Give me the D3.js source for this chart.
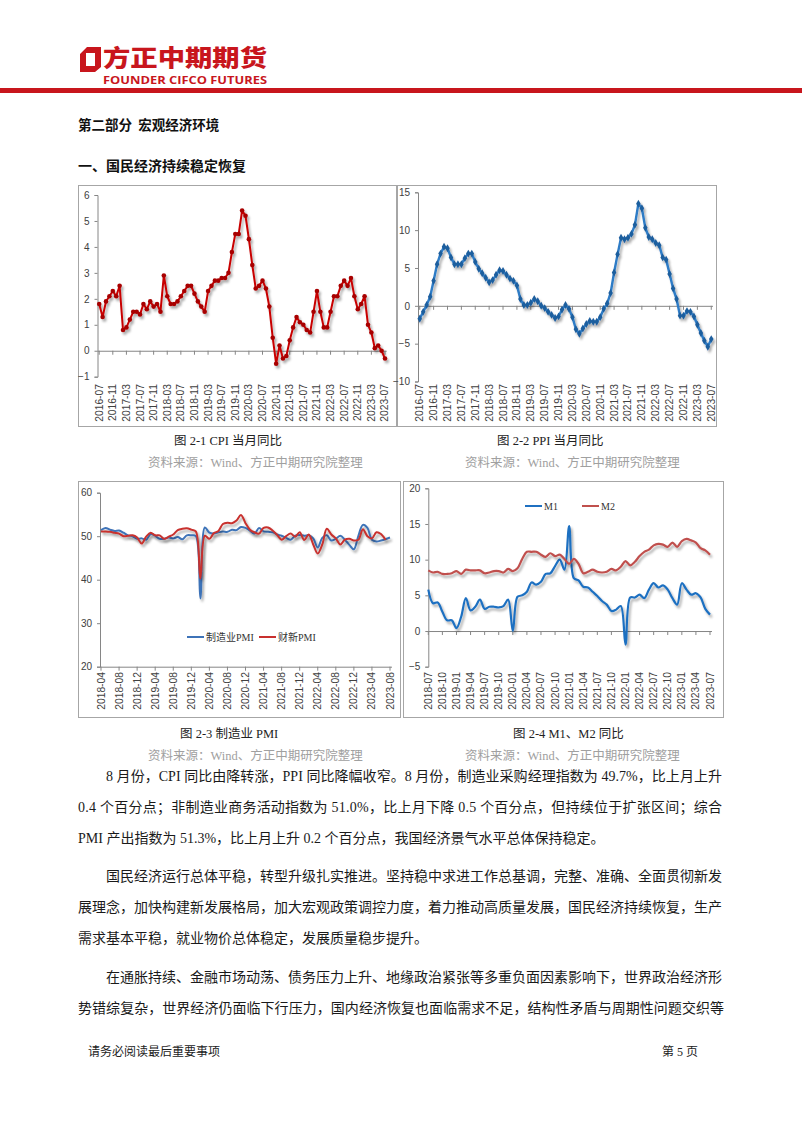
<!DOCTYPE html>
<html><head><meta charset="utf-8">
<script src="https://cdn.jsdelivr.net/npm/d3@7"></script>
<style>
body{margin:0;background:#fff}
svg{display:block}
text{font-family:"Liberation Serif","Noto Sans CJK SC",serif;white-space:pre}
</style></head><body>
<svg id="page" width="802" height="1133"></svg>
<script>
// ---------------- DATA ----------------
const cpiValues=[1.8,1.3,1.9,2.1,2.3,2.1,
2.5,0.8,0.9,1.2,1.5,1.5,1.4,1.8,1.6,1.9,1.7,1.8,
1.5,2.9,2.1,1.8,1.8,1.9,2.1,2.3,2.5,2.5,2.2,1.9,
1.7,1.5,2.3,2.5,2.7,2.7,2.8,2.8,3.0,3.8,4.5,4.5,
5.4,5.2,4.3,3.3,2.4,2.5,2.7,2.4,1.7,0.5,-0.5,0.2,
-0.3,-0.2,0.4,0.9,1.3,1.1,1.0,0.8,0.7,1.5,2.3,1.5,
0.9,0.9,1.5,2.1,2.1,2.5,2.7,2.5,2.8,2.1,1.6,1.8,
2.1,1.0,0.7,0.1,0.2,0.0,-0.3];
const ppiValues=[-1.7,-0.8,0.1,1.2,3.3,5.5,
6.9,7.8,7.6,6.4,5.5,5.5,5.5,6.3,6.9,6.9,5.8,4.9,
4.3,3.7,3.1,3.4,4.1,4.7,4.6,4.1,3.6,3.3,2.7,0.9,
0.1,0.1,0.4,0.9,0.6,0.0,-0.3,-0.8,-1.2,-1.6,-1.4,-0.5,
0.1,-0.4,-1.5,-3.1,-3.7,-3.0,-2.4,-2.0,-2.1,-2.1,-1.5,-0.4,
0.3,1.7,4.4,6.8,9.0,8.8,9.0,9.5,10.7,13.5,12.9,10.3,
9.1,8.8,8.3,8.0,6.4,6.1,4.2,2.3,0.9,-1.3,-1.3,-0.7,
-0.8,-1.4,-2.5,-3.6,-4.6,-5.4,-4.4];
const cpiTicks=["2016-07","2016-11","2017-03","2017-07","2017-11","2018-03","2018-07","2018-11","2019-03","2019-07","2019-11","2020-03","2020-07","2020-11","2021-03","2021-07","2021-11","2022-03","2022-07","2022-11","2023-03","2023-07"];
const ppiTicks=cpiTicks.slice();

const pmiOfficial=[51.4,51.9,51.5,51.2,51.3,50.8,50.2,50.0,49.4,
49.5,49.2,50.5,50.1,49.4,49.4,49.7,49.5,49.8,49.3,50.2,50.2,
50.0,35.7,52.0,50.8,50.6,50.9,51.1,51.0,51.5,51.4,52.1,51.9,
51.3,50.6,51.9,51.1,51.0,50.9,50.4,50.1,49.6,49.2,50.1,50.3,
50.1,50.2,49.5,47.4,49.6,50.2,49.0,49.4,50.1,49.2,48.0,47.0,
50.1,52.6,51.9,49.2,48.8,49.0,49.3,49.7];
const pmiCaixin=[51.1,51.1,51.0,50.8,50.6,50.0,50.1,50.2,49.7,
48.3,49.9,50.8,50.2,50.2,49.4,49.9,50.4,51.4,51.7,51.8,51.5,
51.1,40.3,50.1,49.4,50.7,51.2,52.8,53.1,53.0,53.6,54.9,53.0,
51.5,50.9,50.6,51.9,52.0,51.3,50.3,49.2,50.0,50.6,49.9,50.9,
49.1,50.4,48.1,46.0,48.1,51.7,50.4,49.5,48.1,49.2,49.4,49.0,
49.2,51.6,50.0,49.5,50.9,50.5,49.2,null];
const pmiTicks=["2018-04","2018-08","2018-12","2019-04","2019-08","2019-12","2020-04","2020-08","2020-12","2021-04","2021-08","2021-12","2022-04","2022-08","2022-12","2023-04","2023-08"];

const m1Values=[5.8,3.9,4.0,2.7,1.5,1.5,
0.4,2.0,4.6,2.9,3.4,4.4,3.1,3.4,3.4,3.3,3.5,4.4,
0.0,4.8,5.0,5.5,6.8,6.5,6.9,8.0,8.1,9.1,10.0,8.6,
14.7,7.4,7.1,6.2,6.1,5.5,4.9,4.2,3.7,2.8,3.0,3.5,
-1.9,4.7,4.7,5.1,4.6,5.8,6.7,6.1,6.4,5.8,4.6,3.7,
6.7,5.8,5.1,5.3,4.7,3.1,2.3];
const m2Values=[8.5,8.2,8.3,8.0,8.0,8.1,
8.4,8.0,8.6,8.5,8.5,8.5,8.1,8.2,8.4,8.4,8.2,8.7,
8.4,8.8,10.1,11.1,11.1,11.1,10.7,10.4,10.9,10.5,10.7,10.1,
9.4,10.1,9.4,8.1,8.3,8.6,8.3,8.2,8.3,8.7,8.5,9.0,
9.8,9.2,9.7,10.5,11.1,11.4,12.0,12.2,12.1,11.8,12.4,11.8,
12.6,12.9,12.7,12.4,11.6,11.3,10.7];
const mTicks=["2018-07","2018-10","2019-01","2019-04","2019-07","2019-10","2020-01","2020-04","2020-07","2020-10","2021-01","2021-04","2021-07","2021-10","2022-01","2022-04","2022-07","2022-10","2023-01","2023-04","2023-07"];

const pmiLegend=["制造业PMI","财新PMI"];
const mLegend=["M1","M2"];

function months(start,n){
  const [y,m]=start.split("-").map(Number);
  return d3.range(n).map(i=>{const t=m-1+i;return (y+Math.floor(t/12))+"-"+String(t%12+1).padStart(2,"0");});
}
const cpiMonths=months("2016-07",cpiValues.length);
const pmiMonths=months("2018-04",pmiOfficial.length);
const mMonths=months("2018-07",m1Values.length);

// ---------------- PAGE ----------------
const svg=d3.select("#page");
svg.append("rect").attr("width",802).attr("height",1133).attr("fill","#fff");
const defs=svg.append("defs");
defs.append("filter").attr("id","sh").attr("x","-10%").attr("y","-10%").attr("width","130%").attr("height","130%")
  .append("feDropShadow").attr("dx",1.8).attr("dy",2.6).attr("stdDeviation",1.3)
  .attr("flood-color","#000").attr("flood-opacity",0.33);

// header logo
const red="#C8161D";
svg.append("path").attr("fill-rule","evenodd").attr("fill",red)
  .attr("d","M87,47 L101,47 L101,67 L95,72 L80,72 L80,54 Z M86,53 L95,53 L95,66 L86,66 Z");
svg.append("text").attr("x",103).attr("y",66).attr("fill",red)
  .style("font-family","'Noto Sans CJK SC',sans-serif").style("font-weight","900").style("font-size","23px")
  .attr("textLength",164).attr("lengthAdjust","spacingAndGlyphs").text("方正中期期货");
svg.append("text").attr("x",103).attr("y",84).attr("fill",red)
  .style("font-family","'Open Sans','Liberation Sans',sans-serif").style("font-weight","700").style("font-size","10.5px")
  .attr("textLength",164).attr("lengthAdjust","spacingAndGlyphs").text("FOUNDER CIFCO FUTURES");
svg.append("rect").attr("x",0).attr("y",88).attr("width",802).attr("height",5).attr("fill",red);

// headings
svg.append("text").attr("x",78).attr("y",130).style("font-family","'Noto Sans CJK SC',sans-serif")
  .style("font-weight","700").style("font-size","13.5px").attr("fill","#111").text("第二部分  宏观经济环境");
svg.append("text").attr("x",78).attr("y",171).style("font-family","'Noto Sans CJK SC',sans-serif")
  .style("font-weight","700").style("font-size","14px").attr("fill","#111").text("一、国民经济持续稳定恢复");

// ---------------- CHART HELPER ----------------
function drawChart(c){
  const g=svg.append("g");
  g.append("rect").attr("x",c.box[0]+0.5).attr("y",c.box[1]+0.5).attr("width",c.box[2]).attr("height",c.box[3])
    .attr("fill","#fff").attr("stroke","#A6A6A6").attr("stroke-width",1);
  const y=d3.scaleLinear().domain(c.yDomain).range(c.yRange);
  const x=d3.scalePoint().domain(c.cats).range(c.xRange).padding(c.pad);
  const yAxis=d3.axisLeft(y).tickValues(d3.range(c.yDomain[0],c.yDomain[1]+0.001,c.yStep)).tickSize(3).tickPadding(5).tickFormat(d3.format("d"));
  const ya=g.append("g").attr("transform",`translate(${c.axisX},0)`).call(yAxis);
  ya.select(".domain").attr("stroke","#868686");
  ya.selectAll(".tick line").attr("stroke","#868686");
  ya.selectAll(".tick text").style("font-family","'Liberation Sans',sans-serif").style("font-size","10px").attr("fill","#404040");
  const y0=y(c.xAxisAt);
  g.append("line").attr("x1",c.axisX).attr("x2",c.axisEnd).attr("y1",y0+0.5).attr("y2",y0+0.5).attr("stroke","#868686");
  g.selectAll(".xt").data(c.ticks).join("line")
    .attr("x1",d=>x(d)).attr("x2",d=>x(d)).attr("y1",y0).attr("y2",y0+4).attr("stroke","#868686");
  g.selectAll(".xl").data(c.ticks).join("text")
    .attr("transform",d=>`translate(${x(d)+3.5},${c.labelTop}) rotate(-90)`)
    .attr("text-anchor","end").style("font-family","'Liberation Sans',sans-serif").style("font-size","10.3px").attr("fill","#404040")
    .text(d=>d);
  c.series.forEach(s=>{
    const line=d3.line().defined(d=>d!=null).x((d,i)=>x(c.cats[i])).y(d=>y(d)).curve(s.curve||d3.curveLinear);
    const sg=g.append("g").attr("filter","url(#sh)");
    sg.append("path").datum(s.values).attr("d",line).attr("fill","none").attr("stroke",s.color)
      .attr("stroke-width",s.width||2).attr("stroke-linejoin","round");
    if(s.marker==="circle"){
      sg.selectAll(".m").data(s.values).join("circle").attr("cx",(d,i)=>x(c.cats[i])).attr("cy",d=>y(d)).attr("r",2.3).attr("fill",s.markerColor);
    } else if(s.marker==="diamond"){
      const sym=d3.symbol().type(d3.symbolDiamond).size(18);
      sg.selectAll(".m").data(s.values).join("path").attr("d",sym).attr("transform",(d,i)=>`translate(${x(c.cats[i])},${y(d)})`).attr("fill",s.markerColor);
    }
  });
  if(c.legend){
    c.legend.forEach((l,i)=>{
      g.append("line").attr("x1",l.x).attr("x2",l.x+17).attr("y1",c.legendY).attr("y2",c.legendY).attr("stroke",c.series[i].color).attr("stroke-width",2);
      g.append("text").attr("x",l.x+19).attr("y",c.legendY+3.5).style("font-size","10px").attr("fill","#333").text(l.name);
    });
  }
}

drawChart({box:[78,185,318,241],cats:cpiMonths,yDomain:[-1,6],yRange:[376.7,195],yStep:1,axisX:97.5,
  xRange:[97.5,386.7],pad:0.5,xAxisAt:0,axisEnd:386.7,ticks:cpiTicks,labelTop:384,
  series:[{values:cpiValues,color:"#C80000",marker:"circle",markerColor:"#A80000",width:2}]});
drawChart({box:[397,185,319,241],cats:cpiMonths,yDomain:[-10,15],yRange:[381.5,192.3],yStep:5,axisX:418,
  xRange:[418,713],pad:0.5,xAxisAt:0,axisEnd:713,ticks:ppiTicks,labelTop:384,
  series:[{values:ppiValues,color:"#2D7BC6",marker:"diamond",markerColor:"#1E5E9E",width:2.4}]});
drawChart({box:[78,481,322,236],cats:pmiMonths,yDomain:[20,60],yRange:[666.7,492.7],yStep:10,axisX:100,
  xRange:[101,390],pad:0,xAxisAt:20,axisEnd:392,ticks:pmiTicks,labelTop:672,
  series:[{values:pmiOfficial,color:"#3E73B8",curve:d3.curveCatmullRom.alpha(0.5),width:2},
          {values:pmiCaixin,color:"#C8302E",curve:d3.curveCatmullRom.alpha(0.5),width:2}],
  legend:[{x:187,name:pmiLegend[0]},{x:259,name:pmiLegend[1]}],legendY:637});
drawChart({box:[403,481,320,236],cats:mMonths,yDomain:[-5,20],yRange:[666.7,488.3],yStep:5,axisX:428.3,
  xRange:[428.3,710],pad:0,xAxisAt:0,axisEnd:712,ticks:mTicks,labelTop:672,
  series:[{values:m1Values,color:"#1F70C1",curve:d3.curveCatmullRom.alpha(0.5),width:2.2},
          {values:m2Values,color:"#C0504D",curve:d3.curveCatmullRom.alpha(0.5),width:2.2}],
  legend:[{x:525,name:mLegend[0]},{x:582,name:mLegend[1]}],legendY:506});

// captions
const caps=[
  {x:174,y:445,t:"图 2-1 CPI 当月同比"},{x:497,y:445,t:"图 2-2 PPI 当月同比"},
  {x:180,y:738,t:"图 2-3 制造业 PMI"},{x:513,y:738,t:"图 2-4 M1、M2 同比"}];
caps.forEach(c=>svg.append("text").attr("x",c.x).attr("y",c.y).style("font-size","12.5px").attr("fill","#222").text(c.t));
const srcs=[{x:148,y:467},{x:465,y:467},{x:148,y:760},{x:465,y:760}];
srcs.forEach(c=>svg.append("text").attr("x",c.x).attr("y",c.y).style("font-size","12.5px").attr("fill","#A0A0A0").text("资料来源：Wind、方正中期研究院整理"));

// body text
const body=[
  {x:106,y:781,w:616,t:"8 月份，CPI 同比由降转涨，PPI 同比降幅收窄。8 月份，制造业采购经理指数为 49.7%，比上月上升"},
  {x:78,y:812,w:644,t:"0.4 个百分点；非制造业商务活动指数为 51.0%，比上月下降 0.5 个百分点，但持续位于扩张区间；综合"},
  {x:78,y:843,w:0,t:"PMI 产出指数为 51.3%，比上月上升 0.2 个百分点，我国经济景气水平总体保持稳定。"},
  {x:106,y:881,w:616,t:"国民经济运行总体平稳，转型升级扎实推进。坚持稳中求进工作总基调，完整、准确、全面贯彻新发"},
  {x:78,y:912,w:644,t:"展理念，加快构建新发展格局，加大宏观政策调控力度，着力推动高质量发展，国民经济持续恢复，生产"},
  {x:78,y:943,w:0,t:"需求基本平稳，就业物价总体稳定，发展质量稳步提升。"},
  {x:106,y:982,w:616,t:"在通胀持续、金融市场动荡、债务压力上升、地缘政治紧张等多重负面因素影响下，世界政治经济形"},
  {x:78,y:1013,w:646,t:"势错综复杂，世界经济仍面临下行压力，国内经济恢复也面临需求不足，结构性矛盾与周期性问题交织等"}];
body.forEach(b=>{
  const t=svg.append("text").attr("x",b.x).attr("y",b.y).style("font-size","14px").attr("fill","#1a1a1a").text(b.t);
  if(b.w) t.attr("textLength",b.w).attr("lengthAdjust","spacing");
});

// footer
svg.append("text").attr("x",88).attr("y",1056).style("font-size","12px").attr("fill","#222").text("请务必阅读最后重要事项");
svg.append("text").attr("x",662).attr("y",1056).style("font-size","12px").attr("fill","#222").text("第 5 页");
</script>
</body></html>
